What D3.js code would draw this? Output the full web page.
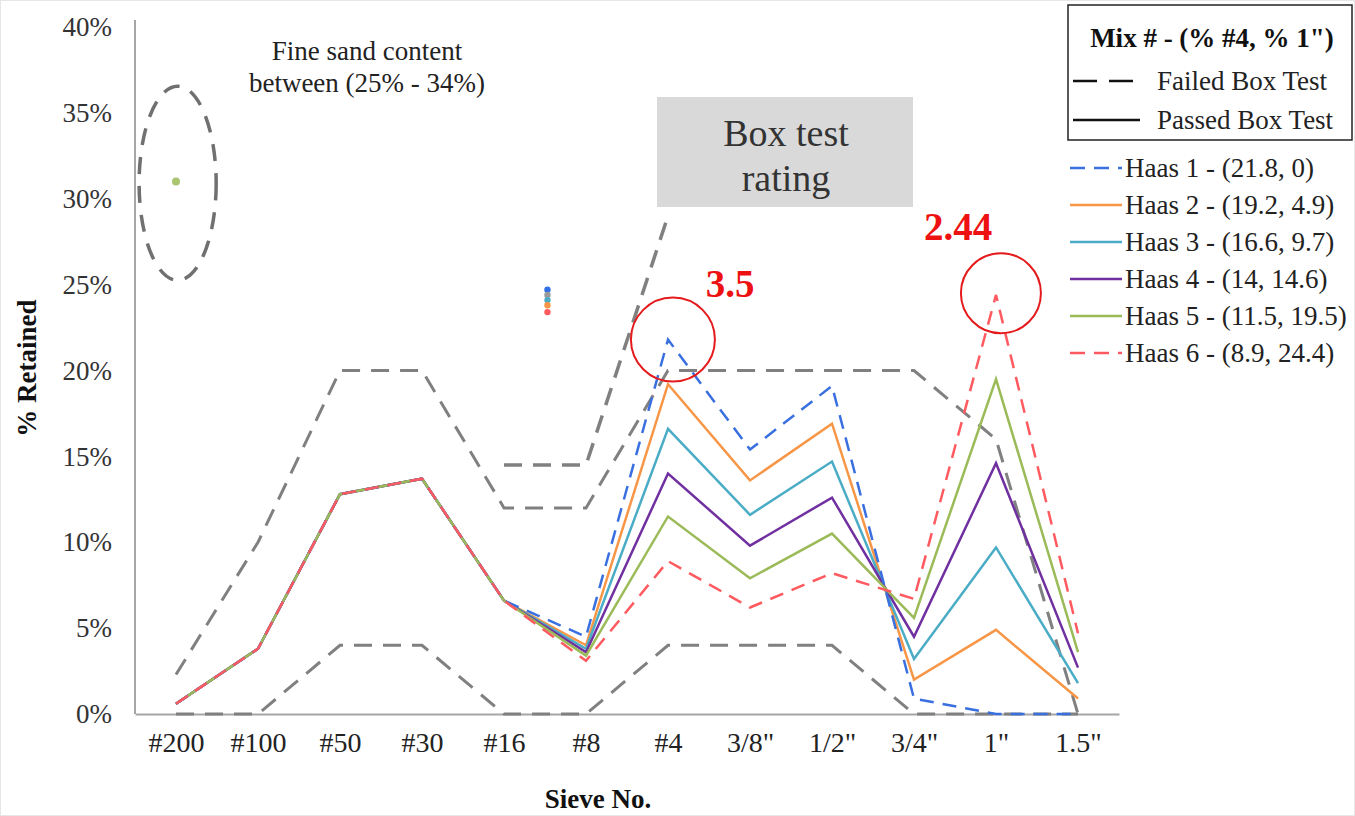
<!DOCTYPE html>
<html><head><meta charset="utf-8">
<script src="https://cdn.jsdelivr.net/npm/d3@7"></script>
<style>body{margin:0;background:#fff}svg{display:block}text{font-family:"Liberation Serif","Times New Roman",serif}</style>
</head><body>
<svg id="c" width="1355" height="816"></svg>
<script>
const categories = ["#200","#100","#50","#30","#16","#8","#4","3/8\"","1/2\"","3/4\"","1\"","1.5\""];
const yTicks = [0,5,10,15,20,25,30,35,40];
const haas1 = [0.6,3.8,12.8,13.7,6.6,4.5,21.8,15.4,19.1,0.9,0,0];
const haas2 = [0.6,3.8,12.8,13.7,6.6,4.0,19.2,13.6,16.9,2.0,4.9,0.9];
const haas3 = [0.6,3.8,12.8,13.7,6.6,3.8,16.6,11.6,14.7,3.2,9.7,1.8];
const haas4 = [0.6,3.8,12.8,13.7,6.6,3.6,14.0,9.8,12.6,4.5,14.6,2.7];
const haas5 = [0.6,3.8,12.8,13.7,6.6,3.4,11.5,7.9,10.5,5.6,19.5,3.6];
const haas6 = [0.6,3.8,12.8,13.7,6.6,3.1,8.9,6.2,8.2,6.7,24.4,4.7];
const upperLimit = [2.3,10,20,20,12,12,20,20,20,20,16,0];
const lowerLimit = [0,0,4,4,0,0,4,4,4,0,0,0];
const extraDashed = [null,null,null,null,14.5,14.5,29,null,null,null,null,null];
const seriesNames = ["Haas 1 - (21.8, 0)","Haas 2 - (19.2, 4.9)","Haas 3 - (16.6, 9.7)","Haas 4 - (14, 14.6)","Haas 5 - (11.5, 19.5)","Haas 6 - (8.9, 24.4)"];
const seriesColors = ["#3a6fe0","#f79646","#4bacc6","#7030a0","#9bbb59","#ff5a5f"];
const seriesDashed = [true,false,false,false,false,true];
const strayDots = [24.7,24.4,24.1,23.8,23.4];
const strayDotColors = ["#2f6fe8","#9a9a9a","#4bacc6","#f79646","#ff5a5f"];
const fineSandDot = 31;

const svg = d3.select("#c");
const W = 1355, H = 816;
svg.append("rect").attr("x",0.5).attr("y",0.5).attr("width",W-1).attr("height",H-1).attr("fill","#fff").attr("stroke","#e6e6e6");

const pLeft = 135, pRight = 1119, pTop = 27, pBottom = 714;
const x = d3.scalePoint().domain(categories).range([pLeft,pRight]).padding(0.5);
const xi = d3.scaleLinear().domain([0,categories.length-1]).range([x(categories[0]), x(categories[categories.length-1])]);
const y = d3.scaleLinear().domain([0,40]).range([pBottom,pTop]);

// axes
const gy = svg.append("g").attr("transform",`translate(${pLeft},0)`)
  .call(d3.axisLeft(y).tickValues(yTicks).tickSize(0).tickPadding(23).tickFormat(d=>d+"%"));
gy.select(".domain").attr("stroke","#a6a6a6").attr("stroke-width",2).attr("d",`M0,${pTop-7}V${pBottom}`);
gy.selectAll("text").attr("font-size",27).attr("fill","#333").attr("font-family","Liberation Serif");

const gx = svg.append("g").attr("transform",`translate(0,${pBottom})`)
  .call(d3.axisBottom(x).tickSize(0).tickPadding(18));
gx.select(".domain").attr("stroke","#a6a6a6").attr("stroke-width",2);
gx.selectAll("text").attr("font-size",28).attr("fill","#222").attr("font-family","Liberation Serif");

svg.append("text").attr("transform",`translate(36,368) rotate(-90)`).attr("text-anchor","middle")
  .attr("font-size",27).attr("font-weight","bold").attr("fill","#111").text("% Retained");
svg.append("text").attr("x",598).attr("y",808).attr("text-anchor","middle")
  .attr("font-size",27).attr("font-weight","bold").attr("fill","#111").text("Sieve No.");

const line = d3.line().defined(d=>d!=null).x((d,i)=>xi(i)).y(d=>y(d));

// limits
[upperLimit,lowerLimit].forEach(arr=>{
  svg.append("path").attr("d",line(arr)).attr("fill","none").attr("stroke","#808080")
    .attr("stroke-width",3).attr("stroke-dasharray","18,11");
});
svg.append("path").attr("d",line(extraDashed)).attr("fill","none").attr("stroke","#808080")
  .attr("stroke-width",3.5).attr("stroke-dasharray","18,11");

const allSeries = [haas1,haas2,haas3,haas4,haas5,haas6];
[1,2,3,4,0,5].forEach(k=>{
  svg.append("path").attr("d",line(allSeries[k])).attr("fill","none").attr("stroke",seriesColors[k])
    .attr("stroke-width",2.5).attr("stroke-linejoin","miter")
    .attr("stroke-dasharray",seriesDashed[k]? "14,9":null);
});

// stray dots
strayDots.forEach((v,i)=>{
  svg.append("circle").attr("cx",xi(4.53)).attr("cy",y(v)).attr("r",3.2).attr("fill",strayDotColors[i]);
});
svg.append("circle").attr("cx",xi(0)).attr("cy",y(fineSandDot)).attr("r",4).attr("fill","#9bbb59").attr("opacity",0.85);

// fine sand ellipse
svg.append("ellipse").attr("cx",xi(0.02)).attr("cy",y(30.9)).attr("rx",xi(0.47)-xi(0)).attr("ry",y(25.25)-y(30.9))
  .attr("fill","none").attr("stroke","#707070").attr("stroke-width",3.5).attr("stroke-dasharray","17,12");
const fs = svg.append("text").attr("text-anchor","middle").attr("font-size",27).attr("fill","#222");
fs.append("tspan").attr("x",367).attr("y",60).text("Fine sand content");
fs.append("tspan").attr("x",367).attr("y",92).text("between (25% - 34%)");

// box test rating
svg.append("rect").attr("x",657).attr("y",97).attr("width",256).attr("height",110).attr("fill","#d9d9d9");
const bt = svg.append("text").attr("text-anchor","middle").attr("font-size",38).attr("fill","#333");
bt.append("tspan").attr("x",786).attr("y",146).text("Box test");
bt.append("tspan").attr("x",786).attr("y",191).text("rating");

// red circles
svg.append("circle").attr("cx",xi(6.06)).attr("cy",y(21.8)).attr("r",42).attr("fill","none").attr("stroke","#e41a1c").attr("stroke-width",2);
svg.append("circle").attr("cx",xi(10.06)).attr("cy",y(24.5)).attr("r",40).attr("fill","none").attr("stroke","#e41a1c").attr("stroke-width",2);
svg.append("text").attr("x",730).attr("y",297).attr("text-anchor","middle").attr("font-size",39).attr("font-weight","bold").attr("fill","#ee1111").text("3.5");
svg.append("text").attr("x",958).attr("y",240).attr("text-anchor","middle").attr("font-size",39).attr("font-weight","bold").attr("fill","#ee1111").text("2.44");

// legend box
svg.append("rect").attr("x",1068).attr("y",5).attr("width",284).attr("height",135).attr("fill","#fff").attr("stroke","#222").attr("stroke-width",1.5);
svg.append("text").attr("x",1212).attr("y",47).attr("text-anchor","middle").attr("font-size",27).attr("font-weight","bold").attr("fill","#111").text("Mix # - (% #4, % 1\")");
svg.append("line").attr("x1",1073).attr("x2",1140).attr("y1",81).attr("y2",81).attr("stroke","#111").attr("stroke-width",2.5).attr("stroke-dasharray","24,12");
svg.append("text").attr("x",1157).attr("y",90).attr("font-size",27).attr("fill","#222").text("Failed Box Test");
svg.append("line").attr("x1",1073).attr("x2",1140).attr("y1",120).attr("y2",120).attr("stroke","#111").attr("stroke-width",2.5);
svg.append("text").attr("x",1157).attr("y",129).attr("font-size",27).attr("fill","#222").text("Passed Box Test");

seriesNames.forEach((n,i)=>{
  const yy = 168 + i*37;
  svg.append("line").attr("x1",1070).attr("x2",1122).attr("y1",yy).attr("y2",yy).attr("stroke",seriesColors[i])
    .attr("stroke-width",2.5).attr("stroke-dasharray",seriesDashed[i]?"15,9":null);
  svg.append("text").attr("x",1125).attr("y",yy+9).attr("font-size",27).attr("fill","#222").text(n);
});
</script>
</body></html>
